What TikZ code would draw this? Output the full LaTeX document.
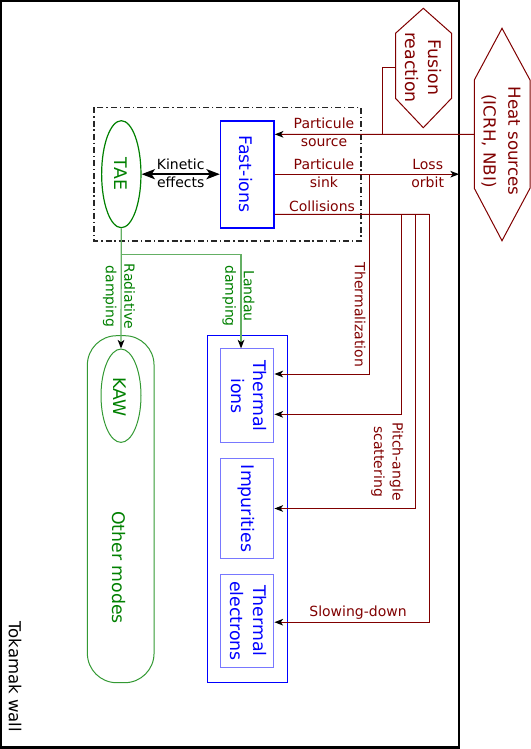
\documentclass[tikz,border=0pt]{standalone}
\usepackage{fontspec}
\setmainfont{DejaVu Sans}
\usetikzlibrary{arrows.meta,shapes.geometric,calc}
\definecolor{dred}{RGB}{128,0,0}
\definecolor{dgreen}{RGB}{0,128,0}
\definecolor{lgreen}{RGB}{100,175,100}
\definecolor{lblue}{RGB}{120,120,255}
\begin{document}
\begin{tikzpicture}[x=0.75pt,y=-0.75pt,
  mainf/.style={font=\fontsize{13}{17}\selectfont},
  labf/.style={font=\fontsize{10.5}{13.8}\selectfont},
  rot/.style={rotate=-90,align=center,inner sep=0pt},
  htext/.style={align=center,inner sep=0pt},
  rline/.style={draw=dred,line width=0.75pt},
  gline/.style={draw=lgreen,line width=0.9pt},
  tip/.style={-{Stealth[length=6.5pt,width=5pt,inset=1.8pt,color=black]}},
  bigtips/.style={{Stealth[length=10pt,width=7.5pt,inset=2.5pt]}-{Stealth[length=10pt,width=7.5pt,inset=2.5pt]}},
  ibox/.style={draw=lblue,line width=0.75pt,inner sep=0pt,minimum width=40pt},
]
\useasboundingbox (0,0) rectangle (531,749);

% Tokamak wall
\draw[line width=1.6pt] (1.2,1.2) rectangle (459.3,747.5);
\node[rot,font=\fontsize{12.4}{16}\selectfont] (wall) at (15,676.7) {Tokamak wall};

% Fusion reaction hexagon
\coordinate (f1) at (423.3,8.3);
\coordinate (f2) at (451.5,33.3);
\coordinate (f3) at (451.5,98.3);
\coordinate (f4) at (423.3,127.7);
\coordinate (f5) at (395.5,98.3);
\coordinate (f6) at (395.5,33.3);
\draw[rline] (f1) -- (f2) -- (f3) -- (f4) -- (f5) -- (f6) -- cycle;
\node[rot,mainf,text=dred] (fus) at (423.3,67.5) {Fusion\\reaction};

% Heat sources hexagon
\coordinate (h1) at (502,28.3);
\coordinate (h2) at (530,80);
\coordinate (h3) at (530,188.3);
\coordinate (h4) at (502,240.7);
\coordinate (h5) at (474.3,188.3);
\coordinate (h6) at (474.3,80);
\draw[rline] (h1) -- (h2) -- (h3) -- (h4) -- (h5) -- (h6) -- cycle;
\node[rot,font=\fontsize{12.5}{18.5}\selectfont,text=dred] (heat) at (501,141) {Heat sources\\(ICRH, NBI)};

% dash-dot box
\draw[black!85,line width=1pt,dash pattern=on 4.5pt off 2.2pt on 1pt off 2.2pt] (94,107.3) rectangle (361,241);

% TAE and fast ions
\node[ellipse,draw=dgreen,line width=0.9pt,inner sep=0pt,minimum width=29.5pt,minimum height=80.25pt] (tae) at (121.3,174.2) {};
\node[rot,mainf,text=dgreen] (taet) at (120.7,174) {TAE};
\node[draw=blue,line width=1.2pt,inner sep=0pt,minimum width=40pt,minimum height=80.25pt] (fast) at (247.3,174.2) {};
\node[rot,mainf,text=blue] (fastt) at (245.7,174.2) {Fast-ions};

\draw[line width=1.8pt,bigtips] (tae.east) -- (fast.west)
  node[midway,htext,labf,yshift=0.6pt] (kin) {Kinetic\\effects};

% Other modes and KAW
\node[draw=dgreen!80,line width=0.75pt,rounded corners=22pt,inner sep=0pt,minimum width=50pt,minimum height=260.25pt] (om) at (120.7,509.2) {};
\node[ellipse,draw=dgreen!80,line width=0.75pt,inner sep=0pt,minimum width=30pt,minimum height=70pt] (kaw) at (121,395.7) {};
\node[rot,mainf,text=dgreen] (kawt) at (120,397) {KAW};
\node[rot,mainf,text=dgreen] (omt) at (119.3,567.5) {Other modes};

% Thermal species
\node[draw=blue,line width=0.75pt,inner sep=0pt,minimum width=59.85pt,minimum height=260pt] (tbox) at (247.4,509) {};
\node[ibox,minimum height=70.3pt] (ti) at (247.3,395.8) {};
\node[ibox,minimum height=75.3pt] (imp) at (247.3,508.5) {};
\node[ibox,minimum height=70pt] (te) at (247.3,621) {};
\node[rot,mainf,text=blue] (tit) at (249,396) {Thermal\\ions};
\node[rot,mainf,text=blue] (impt) at (246.7,508.5) {Impurities};
\node[rot,mainf,text=blue] (tet) at (248.3,621) {Thermal\\electrons};

% green connectors
\coordinate (gj) at (120.7,254.3);
\draw[gline,tip] (tae.south) -- (kaw.north);
\draw[gline,tip] (gj) -| ([xshift=-4.7pt]ti.north);
\node[rot,labf,text=dgreen] (rad) at (119,296.5) {Radiative\\damping};
\node[rot,labf,text=dgreen] (lan) at (238.5,296) {Landau\\damping};

% red connectors
\coordinate (hsl) at (474.3,134.3);
\coordinate (fusl) at (395.5,67.3);
\coordinate (fj) at (382.7,134.3);
\coordinate (wallpt) at (459,174.2);
\coordinate (colend) at (429.3,214.3);
\coordinate (th0) at (369,174.2);
\coordinate (pa0) at (401,214.3);
\coordinate (im0) at (415.7,214.3);
\coordinate (sd0) at (429.3,214.3);
\draw[rline,tip] (hsl) -- ([yshift=29.9pt]fast.east);
\draw[rline] (fusl) -| (fj);
\draw[rline,tip] (fast.east) -- (wallpt);
\draw[rline] ([yshift=-30.1pt]fast.east) -- (colend);
\draw[rline,tip] (th0) |- ([yshift=16.35pt]ti.east);
\draw[rline,tip] (pa0) |- ([yshift=-13.9pt]ti.east);
\draw[rline,tip] (im0) |- (imp.east);
\draw[rline,tip] (sd0) |- ([yshift=-0.9pt]te.east);

\node[htext,labf,text=dred] (srcl) at (324,132.5) {Particule\\source};
\node[htext,labf,text=dred] (sinkl) at (324,173.2) {Particule\\sink};
\node[htext,labf,text=dred] (lossl) at (427.7,173.5) {Loss\\orbit};
\node[htext,labf,text=dred] (coll) at (322,206.7) {Collisions};
\node[rot,labf,text=dred] (therml) at (360,315) {Thermalization};
\node[rot,labf,text=dred] (pitchl) at (387.3,461.7) {Pitch-angle\\scattering};
\node[htext,labf,text=dred] (slowl) at (358,612.3) {Slowing-down};
\end{tikzpicture}
\end{document}
